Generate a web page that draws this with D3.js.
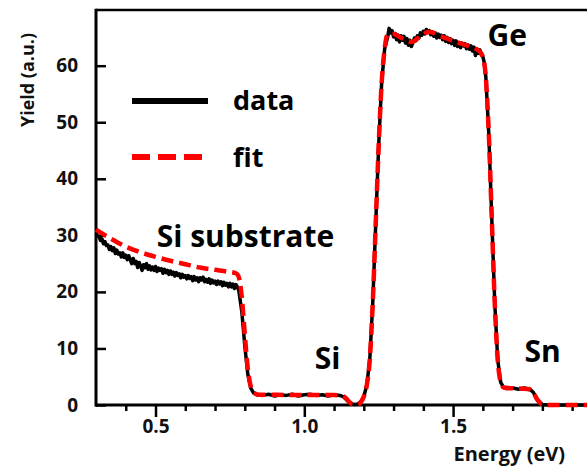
<!DOCTYPE html>
<html>
<head>
<meta charset="utf-8">
<script src="https://cdn.jsdelivr.net/npm/d3@7"></script>
<style>
  body { margin: 0; background: #fff; }
  text { font-family: "Open Sans", "DejaVu Sans", sans-serif; font-weight: bold; }
</style>
</head>
<body>
<div id="chart"></div>
<script>
// measured spectrum: [energy (eV), yield (a.u.)]
const dataPoints = [
  [0.300, 30.3], [0.305, 29.9], [0.310, 29.8], [0.315, 29.1], [0.320, 29.4], [0.325, 28.5],
  [0.330, 28.9], [0.335, 28.2], [0.340, 28.3], [0.345, 27.5], [0.350, 28.0], [0.355, 27.3],
  [0.360, 27.8], [0.365, 26.8], [0.370, 27.4], [0.375, 26.7], [0.380, 26.9], [0.385, 26.2],
  [0.390, 26.9], [0.395, 26.1], [0.400, 26.5], [0.405, 25.7], [0.410, 26.4], [0.415, 25.7],
  [0.420, 25.0], [0.425, 25.9], [0.430, 25.0], [0.435, 25.4], [0.440, 24.3], [0.445, 25.2],
  [0.450, 24.6], [0.455, 23.8], [0.460, 24.8], [0.465, 24.3], [0.470, 25.0], [0.475, 24.0],
  [0.480, 24.6], [0.485, 23.9], [0.490, 24.4], [0.495, 23.8], [0.500, 24.5], [0.505, 23.6],
  [0.510, 24.2], [0.515, 23.8], [0.520, 24.1], [0.525, 23.3], [0.530, 24.0], [0.535, 23.4],
  [0.540, 23.8], [0.545, 23.1], [0.550, 23.7], [0.555, 23.1], [0.560, 23.5], [0.565, 22.8],
  [0.570, 23.4], [0.575, 22.9], [0.580, 23.2], [0.585, 22.5], [0.590, 23.1], [0.595, 22.6],
  [0.600, 22.9], [0.605, 22.3], [0.610, 22.9], [0.615, 22.4], [0.620, 22.7], [0.625, 22.0],
  [0.630, 22.7], [0.635, 22.1], [0.640, 22.5], [0.645, 21.8], [0.650, 22.5], [0.655, 22.1],
  [0.660, 22.6], [0.665, 21.8], [0.670, 22.2], [0.675, 21.7], [0.680, 22.3], [0.685, 21.5],
  [0.690, 22.1], [0.695, 21.6], [0.700, 21.9], [0.705, 21.3], [0.710, 21.9], [0.715, 21.4],
  [0.720, 21.8], [0.725, 21.1], [0.730, 21.7], [0.735, 21.2], [0.740, 21.5], [0.745, 20.9],
  [0.750, 21.5], [0.755, 20.9], [0.760, 21.4], [0.765, 20.6], [0.770, 21.3], [0.775, 20.9],
  [0.780, 20.2], [0.790, 16.5], [0.800, 10.5], [0.810, 5.5], [0.820, 3.0], [0.830, 2.1],
  [0.840, 1.8], [0.860, 1.7], [0.880, 1.9], [0.900, 1.6], [0.920, 1.8], [0.940, 1.7],
  [0.960, 1.9], [0.980, 1.6], [1.000, 1.8], [1.020, 1.9], [1.040, 1.7], [1.060, 1.8],
  [1.080, 1.6], [1.100, 1.8], [1.120, 1.7], [1.130, 1.5], [1.140, 1.0], [1.150, 0.5],
  [1.160, 0.2], [1.170, 0.1], [1.180, 0.2], [1.190, 0.6], [1.200, 1.5], [1.210, 3.5],
  [1.220, 8.0], [1.230, 18.0], [1.240, 32.0], [1.250, 46.0], [1.260, 57.0], [1.270, 63.0],
  [1.280, 65.0], [1.285, 66.6], [1.290, 65.8], [1.295, 66.2], [1.300, 65.1], [1.305, 65.7],
  [1.310, 64.6], [1.315, 65.4], [1.320, 64.2], [1.325, 65.3], [1.330, 64.5], [1.335, 65.2],
  [1.340, 64.0], [1.345, 64.8], [1.350, 63.6], [1.355, 64.5], [1.360, 63.4], [1.365, 64.1],
  [1.370, 64.9], [1.375, 64.4], [1.380, 65.3], [1.385, 64.9], [1.390, 65.8], [1.395, 65.4],
  [1.400, 66.1], [1.405, 65.6], [1.410, 66.4], [1.415, 65.9], [1.420, 66.2], [1.425, 65.5],
  [1.430, 66.0], [1.435, 65.2], [1.440, 65.8], [1.445, 64.9], [1.450, 65.6], [1.455, 65.0],
  [1.460, 65.4], [1.465, 64.6], [1.470, 65.3], [1.475, 64.3], [1.480, 65.0], [1.485, 64.1],
  [1.490, 64.8], [1.495, 63.9], [1.500, 64.5], [1.505, 63.6], [1.510, 64.4], [1.515, 63.4],
  [1.520, 64.1], [1.525, 63.2], [1.530, 64.0], [1.535, 63.5], [1.540, 63.9], [1.545, 63.0],
  [1.550, 63.7], [1.555, 62.9], [1.560, 63.5], [1.565, 62.6], [1.570, 63.3], [1.575, 61.8],
  [1.580, 63.0], [1.585, 62.2], [1.590, 62.8], [1.595, 61.9], [1.600, 61.6], [1.605, 60.5],
  [1.610, 58.0], [1.620, 48.0], [1.630, 33.0], [1.640, 18.0], [1.650, 8.0], [1.660, 4.0],
  [1.670, 3.1], [1.680, 2.9], [1.700, 3.0], [1.720, 2.8], [1.740, 3.0], [1.760, 2.7],
  [1.770, 2.2], [1.780, 1.2], [1.790, 0.5], [1.800, 0.1], [1.820, 0.0], [1.860, 0.0],
  [1.900, 0.0], [1.950, 0.0]
];

// simulated fit
const fitEnergy = [
  0.30, 0.35, 0.40, 0.45, 0.50, 0.55, 0.60, 0.65, 0.70, 0.74,
  0.77, 0.78, 0.79, 0.80, 0.81, 0.82, 0.83, 0.85, 0.90, 1.00,
  1.10, 1.12, 1.14, 1.15, 1.16, 1.18, 1.19, 1.20, 1.21, 1.22,
  1.23, 1.24, 1.25, 1.26, 1.27, 1.28, 1.30, 1.33, 1.36, 1.39,
  1.42, 1.46, 1.50, 1.55, 1.59, 1.60, 1.61, 1.62, 1.63, 1.64,
  1.65, 1.66, 1.67, 1.70, 1.75, 1.76, 1.77, 1.78, 1.79, 1.80,
  1.82, 1.95
];
const fitYield = [
  31.0, 29.4, 28.0, 27.0, 26.2, 25.5, 24.9, 24.3, 23.9, 23.6,
  23.3, 22.6, 19.0, 12.5, 6.5, 3.3, 2.2, 1.8, 1.8, 1.75,
  1.75, 1.7, 1.2, 0.6, 0.2, 0.1, 0.5, 1.5, 3.5, 8.0,
  18.0, 32.0, 46.0, 57.0, 63.0, 65.5, 65.6, 64.8, 64.2, 65.2,
  66.0, 65.2, 64.4, 63.5, 62.5, 61.5, 58.0, 48.0, 33.0, 18.0,
  8.0, 4.0, 3.1, 2.95, 2.85, 2.7, 2.2, 1.2, 0.5, 0.1,
  0.0, 0.0
];

const yTicks = [0, 10, 20, 30, 40, 50, 60];
const xMajorTicks = [0.5, 1.0, 1.5];
const xMinorTicks = [0.4, 0.6, 0.7, 0.8, 0.9, 1.1, 1.2, 1.3, 1.4, 1.6, 1.7, 1.8, 1.9];

const peakLabels = [
  { text: "Si substrate", e: 0.504, y: 27.9 },
  { text: "Si", e: 1.035, y: 6.4 },
  { text: "Ge", e: 1.616, y: 63.5 },
  { text: "Sn", e: 1.74, y: 7.6 }
];

const width = 587;
const height = 470;
const margin = { top: 10, left: 96, bottom: 65 };

const svg = d3.select("#chart")
  .append("svg")
  .attr("width", width)
  .attr("height", height);

const x = d3.scaleLinear()
  .domain([0.3, 1.95])
  .range([margin.left, width]);

const y = d3.scaleLinear()
  .domain([0, 60])
  .range([height - margin.bottom, height - margin.bottom - 60 * 5.655]);

// frame top line
svg.append("line")
  .attr("x1", margin.left).attr("x2", width + 5)
  .attr("y1", margin.top).attr("y2", margin.top)
  .attr("stroke", "#000").attr("stroke-width", 2.5);

// x axis: minor then major ticks
const xAxisG = svg.append("g")
  .attr("transform", `translate(0,${y(0)})`);

xAxisG.append("g")
  .call(d3.axisBottom(x).tickValues(xMinorTicks).tickSize(6).tickFormat(""))
  .call(g => g.select(".domain").remove());

xAxisG.append("g")
  .call(d3.axisBottom(x).tickValues(xMajorTicks).tickSize(12).tickPadding(3).tickFormat(d3.format(".1f")))
  .call(g => g.select(".domain").remove())
  .call(g => g.selectAll("text").attr("font-size", 19).attr("fill", "#111"));

xAxisG.selectAll(".tick line").attr("stroke", "#000").attr("stroke-width", 2.5);

xAxisG.append("line")
  .attr("x1", margin.left - 1).attr("x2", width + 5)
  .attr("stroke", "#000").attr("stroke-width", 3);

// y axis with inward ticks
const yAxisG = svg.append("g")
  .attr("transform", `translate(${margin.left},0)`)
  .call(d3.axisLeft(y).tickValues(yTicks).tickSizeInner(-10).tickSizeOuter(0).tickPadding(18))
  .call(g => g.select(".domain").remove());

yAxisG.selectAll(".tick line").attr("stroke", "#000").attr("stroke-width", 2.5);
yAxisG.selectAll("text").attr("font-size", 19).attr("fill", "#111");

yAxisG.append("line")
  .attr("y1", margin.top - 1.2).attr("y2", y(0) + 1.5)
  .attr("stroke", "#000").attr("stroke-width", 3);

// axis titles
svg.append("text")
  .attr("x", 565).attr("y", 461)
  .attr("text-anchor", "end")
  .attr("font-size", 20)
  .attr("fill", "#111")
  .text("Energy (eV)");

svg.append("text")
  .attr("transform", "translate(34,80) rotate(-90)")
  .attr("text-anchor", "middle")
  .attr("font-size", 18)
  .attr("fill", "#111")
  .text("Yield (a.u.)");

// curves
const line = d3.line()
  .x(d => x(d[0]))
  .y(d => y(d[1]));

const fitPts = fitEnergy.map((e, i) => [e, fitYield[i]]);

svg.append("path")
  .datum(dataPoints)
  .attr("d", line)
  .attr("fill", "none")
  .attr("stroke", "#000")
  .attr("stroke-width", 3.5)
  .attr("stroke-linejoin", "round");

svg.append("path")
  .datum(fitPts)
  .attr("d", line.curve(d3.curveMonotoneX))
  .attr("fill", "none")
  .attr("stroke", "#f00")
  .attr("stroke-width", 4.5)
  .attr("stroke-dasharray", "12,6");

// peak labels
svg.selectAll(".peak")
  .data(peakLabels)
  .join("text")
  .attr("class", "peak")
  .attr("x", d => x(d.e))
  .attr("y", d => y(d.y))
  .attr("font-size", 30)
  .attr("fill", "#000")
  .text(d => d.text);

// legend
const legend = svg.append("g").attr("transform", "translate(132,0)");
legend.append("line")
  .attr("x1", 0).attr("x2", 76).attr("y1", 101).attr("y2", 101)
  .attr("stroke", "#000").attr("stroke-width", 6);
legend.append("line")
  .attr("x1", 0).attr("x2", 76).attr("y1", 157).attr("y2", 157)
  .attr("stroke", "#f00").attr("stroke-width", 6)
  .attr("stroke-dasharray", "18,8");
legend.append("text")
  .attr("x", 101).attr("y", 110)
  .attr("font-size", 27).attr("fill", "#000")
  .text("data");
legend.append("text")
  .attr("x", 101).attr("y", 167)
  .attr("font-size", 27).attr("fill", "#000")
  .text("fit");
</script>
</body>
</html>
